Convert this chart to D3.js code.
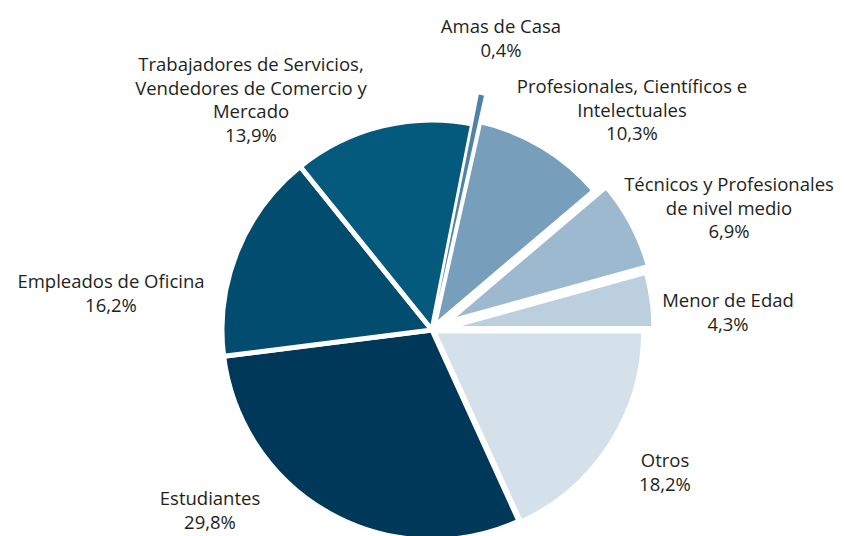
<!DOCTYPE html>
<html>
<head>
<meta charset="utf-8">
<script src="https://cdn.jsdelivr.net/npm/d3@7"></script>
<style>
  html, body { margin: 0; padding: 0; background: #fff; }
  svg text { font-family: "Open Sans", "Noto Sans", sans-serif; font-size: 18.5px; fill: #231f20; }
</style>
</head>
<body>
<main></main>
<script>
// Data
const categories = [
  'Amas de Casa',
  'Profesionales, Científicos e Intelectuales',
  'Técnicos y Profesionales de nivel medio',
  'Menor de Edad',
  'Otros',
  'Estudiantes',
  'Empleados de Oficina',
  'Trabajadores de Servicios, Vendedores de Comercio y Mercado',
];
const shares = [0.4, 10.3, 6.9, 4.3, 18.2, 29.8, 16.2, 13.9];

// label lines as they wrap in the picture
const labelLines = [
  ['Amas de Casa'],
  ['Profesionales, Científicos e', 'Intelectuales'],
  ['Técnicos y Profesionales', 'de nivel medio'],
  ['Menor de Edad'],
  ['Otros'],
  ['Estudiantes'],
  ['Empleados de Oficina'],
  ['Trabajadores de Servicios,', 'Vendedores de Comercio y', 'Mercado'],
];

const colors = ['#4d83a6', '#779fbb', '#9cb9cf', '#bccfdf', '#d4e0ea', '#00385a', '#024c70', '#035a7c'];

// Layout
const w = 845;
const h = 536;
const cx = 432;
const cy = 330;
const radius = 210;
const explode = [30, 4, 16, 12, 2, 0, 0, 0];
const strokeW = [0, 5, 5, 5, 5, 5, 5, 5];
// label anchor: x centre, baseline of first line
const labelAnchor = [
  [501, 33], [632, 93], [729, 191], [728, 307],
  [665, 467], [210, 505], [111, 288], [251, 71],
];
const lineH = 23.5;

const svg = d3.select('main').append('svg').attr('width', w).attr('height', h);

const startAngle = (90 - (shares[0] + shares[1] + shares[2] + shares[3]) * 3.6) * Math.PI / 180;

const pie = d3
  .pie()
  .sort(null)
  .value((d) => d)
  .startAngle(startAngle)
  .endAngle(startAngle + 2 * Math.PI);

const arc = d3.arc().innerRadius(0).outerRadius(radius);

const arcs = pie(shares);

const g = svg.append('g').attr('transform', `translate(${cx},${cy})`);

// the tiny exploded slice goes on top so the white strokes do not hide it
const drawOrder = arcs.map((d, i) => i).sort((a, b) => (a === 0) - (b === 0));

g.selectAll('path')
  .data(drawOrder)
  .enter()
  .append('path')
  .attr('d', (i) => arc(arcs[i]))
  .attr('fill', (i) => colors[i])
  .attr('stroke', '#fff')
  .attr('stroke-width', (i) => strokeW[i])
  .attr('stroke-linejoin', 'round')
  .attr('transform', (i) => {
    const d = arcs[i];
    const a = (d.startAngle + d.endAngle) / 2;
    return `translate(${Math.sin(a) * explode[i]},${-Math.cos(a) * explode[i]})`;
  });

const fmt = (v) => `${v.toFixed(1).replace('.', ',')}%`;

const labels = svg
  .selectAll('text.lbl')
  .data(arcs)
  .enter()
  .append('text')
  .attr('class', 'lbl')
  .attr('text-anchor', 'middle')
  .attr('transform', (d, i) => `translate(${labelAnchor[i][0]},${labelAnchor[i][1]})`);

labels.each(function (d, i) {
  const t = d3.select(this);
  const lines = labelLines[i].concat([fmt(d.data)]);
  lines.forEach((s, j) => {
    t.append('tspan').attr('x', 0).attr('y', j * lineH).text(s);
  });
});
</script>
</body>
</html>
